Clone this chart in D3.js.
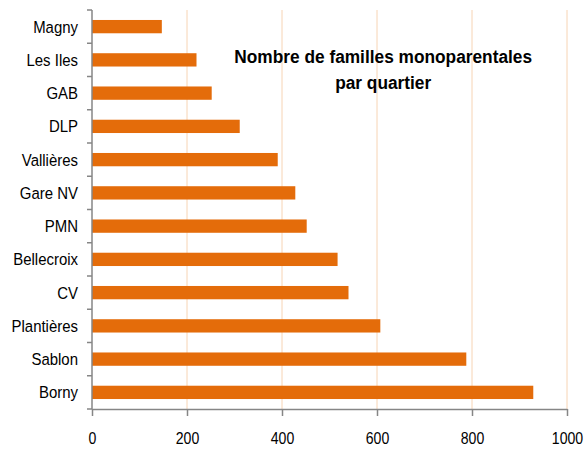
<!DOCTYPE html>
<html>
<head>
    <title>Nombre de familles monoparentales par quartier</title>
    <script src="https://d3js.org/d3.v7.min.js"></script>
    <style>
        body { margin: 0; background: #fff; }
        text { font-family: "Liberation Sans", Arial, sans-serif; fill: #000; }
    </style>
</head>
<body>
    <div id="chart"></div>

    <script>
        // Quartiers, top to bottom
        const quartiers = ["Magny", "Les Iles", "GAB", "DLP", "Vallières", "Gare NV", "PMN",
            "Bellecroix", "CV", "Plantières", "Sablon", "Borny"];
        const familles = [147, 220, 252, 311, 391, 428, 452, 517, 540, 607, 788, 929];
        const xTicks = [0, 200, 400, 600, 800, 1000];

        const data = quartiers.map((q, i) => ({ quartier: q, value: familles[i] }));

        // narrow the font a bit, the original uses a condensed face
        const squeeze = 0.88;

        const margin = { top: 10, right: 17, bottom: 45, left: 92 },
            width = 584 - margin.left - margin.right,
            height = 454 - margin.top - margin.bottom;

        const svg = d3.select("#chart")
            .append("svg")
            .attr("width", width + margin.left + margin.right)
            .attr("height", height + margin.top + margin.bottom)
            .append("g")
            .attr("transform", `translate(${margin.left},${margin.top})`);

        const x = d3.scaleLinear()
            .domain([0, 1000])
            .range([0, width]);

        const y = d3.scaleBand()
            .domain(quartiers)
            .range([0, height])
            .paddingInner(0.6)
            .paddingOuter(0.3);

        // Vertical gridlines
        svg.selectAll("line.grid")
            .data(xTicks.slice(1))
            .enter().append("line")
            .attr("class", "grid")
            .attr("x1", d => x(d))
            .attr("x2", d => x(d))
            .attr("y1", 0)
            .attr("y2", height)
            .attr("stroke", "#f7d4b4")
            .attr("stroke-width", 1);

        // Bars
        svg.selectAll("rect")
            .data(data)
            .enter().append("rect")
            .attr("x", 0)
            .attr("y", d => y(d.quartier))
            .attr("width", d => x(d.value))
            .attr("height", y.bandwidth())
            .attr("fill", "#e46c0a");

        // x axis
        const xAxis = svg.append("g")
            .attr("transform", `translate(0,${height})`)
            .call(d3.axisBottom(x).tickValues(xTicks).tickFormat(d3.format("d"))
                .tickSize(7).tickSizeOuter(0).tickPadding(17));
        xAxis.select(".domain").attr("stroke", "#868686").attr("stroke-width", 1.5);
        xAxis.selectAll(".tick line").attr("stroke", "#868686").attr("stroke-width", 1.5);
        xAxis.selectAll("text")
            .attr("font-size", 16)
            .attr("font-family", "\"Liberation Sans\", Arial, sans-serif")
            .attr("fill", "#000")
            .attr("transform", `scale(${squeeze},1)`);

        // y axis: ticks between categories
        const step = y.step();
        const yAxis = svg.append("g");
        yAxis.append("line")
            .attr("x1", 0).attr("x2", 0)
            .attr("y1", 0).attr("y2", height)
            .attr("stroke", "#868686").attr("stroke-width", 1.5);
        yAxis.selectAll("line.tick")
            .data(d3.range(quartiers.length + 1))
            .enter().append("line")
            .attr("class", "tick")
            .attr("x1", -5).attr("x2", 0)
            .attr("y1", i => i * step)
            .attr("y2", i => i * step)
            .attr("stroke", "#868686").attr("stroke-width", 1.5);
        yAxis.selectAll("text")
            .data(quartiers)
            .enter().append("text")
            .attr("transform", d => `translate(-14,${y(d) + y.bandwidth() / 2}) scale(${squeeze},1)`)
            .attr("dy", "0.35em")
            .attr("text-anchor", "end")
            .attr("font-size", 17)
            .text(d => d);

        // Title
        const title = svg.append("text")
            .attr("transform", `translate(${x(613)},53) scale(0.91,1)`)
            .attr("text-anchor", "middle")
            .attr("font-size", 19)
            .attr("font-weight", "bold");
        title.append("tspan").attr("x", 0).attr("dy", 0).text("Nombre de familles monoparentales");
        title.append("tspan").attr("x", 0).attr("dy", 26).text("par quartier");
    </script>
</body>
</html>
